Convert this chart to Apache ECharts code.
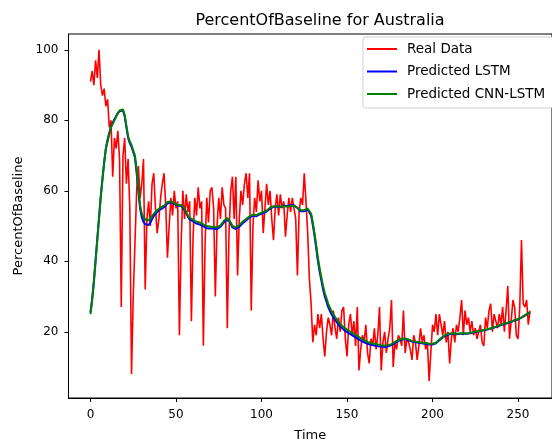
<!DOCTYPE html>
<html>
<head>
<meta charset="utf-8">
<script src="https://cdn.jsdelivr.net/npm/echarts@6/dist/echarts.min.js"></script>
<style>
html,body{margin:0;padding:0;background:#fff;}
#chart{width:552px;height:447px;}
</style>
</head>
<body>
<div id="chart"></div>
<script>
const titleText = 'PercentOfBaseline for Australia';
const xName = 'Time';
const yName = 'PercentOfBaseline';
const seriesNames = ['Real Data', 'Predicted LSTM', 'Predicted CNN-LSTM'];

const realData = [
  91, 94, 90, 97, 92, 100, 90, 87, 89, 84,
  86, 78, 80, 64, 75, 72, 77, 69, 27, 70,
  75, 62, 69, 55, 8, 30, 45, 60, 67, 58,
  62, 69, 32, 52, 57, 50, 62, 65, 55, 48,
  52, 58, 62, 65, 56, 41, 50, 58, 53, 60,
  55, 57, 19, 45, 60, 52, 59, 54, 57, 23,
  47, 58, 53, 61, 55, 57, 16, 45, 58, 51,
  60, 61, 55, 30, 50, 58, 52, 61, 56, 55,
  21, 48, 60, 64, 52, 64, 36, 52, 60, 56,
  62, 65, 58, 65, 26, 50, 58, 54, 63, 57,
  60, 48, 55, 62, 56, 60, 52, 46, 55, 59,
  53, 59, 55, 57, 47, 53, 58, 54, 58, 55,
  52, 36, 54, 58, 56, 65, 57, 48, 35, 28,
  17, 22, 19, 25, 21, 25, 18, 13, 20, 24,
  22, 19, 26, 21, 18, 24, 20, 26, 27, 18,
  13, 22, 25, 19, 23, 16, 27, 9, 15, 19,
  17, 22, 14, 11, 18, 16, 21, 15, 19, 27,
  9, 17, 20, 14, 18, 21, 29, 10, 17, 15,
  19, 18, 16, 26, 14, 18, 17, 15, 12, 19,
  17, 12, 16, 21, 17, 19, 15, 17, 6, 14,
  22, 20, 25, 19, 25, 22, 19, 23, 17, 20,
  11, 18, 21, 17, 22, 20, 24, 29, 19, 26,
  22, 24, 20, 23, 19, 21, 18, 20, 22, 17,
  16, 24, 21, 26, 28, 20, 25, 23, 21, 25,
  22, 27, 20, 26, 33, 18, 23, 29, 27, 19,
  18, 27, 46, 28, 27, 29, 22, 26
];

const lstmData = [
  25.5, 29.5, 34.5, 40.5, 46.5, 52.5, 58.5, 63.5, 68, 72, 74.5, 76.5, 78.2, 79.3, 80.3, 81.2, 82, 82.6, 83, 82.8, 81.2,
  78, 75, 73.5, 72.5, 72, 69.5, 65, 60, 55, 52.5, 51.2, 50.5, 50.2, 50.3, 51, 52, 52.8, 53.5, 54, 54.5,
  54.8, 55, 55.4, 55.8, 56.4, 56.7, 56.8, 56.6, 56.3, 56, 55.8, 55.9, 55.7, 55.2, 54.6, 53.6, 52.6, 51.9, 51.6, 51.3,
  51, 50.7, 50.5, 50.4, 50.2, 49.9, 49.6, 49.4, 49.1, 49.3, 49.7, 49.3, 49, 49.1, 49.5,
  49.8, 50.4, 51, 51.6, 51.9, 51.6, 50.6, 49.6, 49.2, 49.1, 49.3, 49.8, 50.3, 50.8, 51.1,
  51.6, 52.1, 52.5, 52.7, 52.9, 52.7, 52.8, 53, 53.3, 53.5, 53.7, 53.9, 54.1, 54.5, 54.9, 55.3, 55.5, 55.6, 55.5, 55.4,
  55.4, 55.6, 55.8, 55.8, 55.7, 55.8, 55.9, 56, 55.9, 55.6, 55.1, 54.6, 54.2, 54, 54.2, 54.5, 54.7, 54.3,
  53, 50.3, 47.2, 43.6, 40, 37, 34.5, 32, 30, 28.5, 27, 25.9, 24.9, 24.1, 23.4, 22.7, 22.1, 21.5, 21, 20.6, 20.3, 19.9,
  19.6, 19.3, 19, 18.7, 18.4, 18.1, 17.8, 17.5, 17.3, 17, 16.8, 16.6, 16.4, 16.3, 16.2, 16.1, 16, 15.9, 15.8, 15.8,
  15.8, 15.7, 15.8, 15.9, 16, 16.2, 16.5, 16.8, 17.1, 17.4, 17.6, 17.8, 17.9, 17.9, 17.8, 17.6, 17.4, 17.2, 17.1, 17,
  17, 16.9, 16.8, 16.7, 16.6, 16.6, 16.5, 16.4, 16.4, 16.4, 16.5, 16.7, 17.1, 17.6, 18, 18.4, 18.7, 19, 19.2, 19.3,
  19.4, 19.4, 19.3, 19.3, 19.3, 19.4, 19.5, 19.5, 19.4, 19.4, 19.5, 19.6, 19.7, 19.8, 19.9, 20, 20.1, 20.2, 20.3, 20.4,
  20.5, 20.6, 20.8, 20.9, 21, 21.2, 21.3, 21.5, 21.7, 21.9, 22, 22.2, 22.3, 22.5, 22.7, 22.8, 23, 23.2, 23.4, 23.5, 23.7, 24, 24.3, 24.6, 24.9, 25.2, 25.5
];

const cnnLstmData = [
  25, 29, 34, 40, 46, 52, 58, 63, 68, 72, 74, 76, 78, 79, 80, 81, 82, 82.8, 83.3, 83.1, 81.5,
  78.5, 75.5, 74, 73, 72.5, 70, 66, 61, 56, 53.5, 52.5, 52, 51.5, 51.3, 52, 52.8, 53.5, 54, 54.5, 55,
  55.3, 55.5, 55.8, 56.2, 56.8, 57, 57, 56.8, 56.5, 56.3, 56, 56.2, 56, 55.5, 55, 54, 53, 52.3, 52, 51.8,
  51.5, 51.2, 51, 51, 50.8, 50.5, 50.2, 50, 49.6, 49.8, 50.2, 49.8, 49.5, 49.6, 50,
  50.2, 50.8, 51.5, 52, 52.3, 52, 51, 50, 49.7, 49.6, 49.8, 50.3, 50.8, 51.2, 51.5,
  52, 52.5, 52.8, 53, 53.2, 53, 53.1, 53.3, 53.6, 53.8, 54, 54.2, 54.4, 54.8, 55.2, 55.5, 55.6, 55.7, 55.6, 55.5,
  55.5, 55.6, 55.7, 55.6, 55.5, 55.6, 55.7, 55.8, 55.7, 55.5, 55.2, 54.8, 54.5, 54.3, 54.5, 54.8, 55, 54.7,
  53.5, 51, 48, 44.5, 41, 38, 35.5, 33, 31, 29.5, 28, 26.8, 25.8, 25, 24.2, 23.5, 22.8, 22.2, 21.7, 21.3, 21, 20.6,
  20.3, 20, 19.7, 19.4, 19.1, 18.8, 18.5, 18.2, 17.9, 17.6, 17.3, 17.1, 16.9, 16.8, 16.7, 16.6, 16.5, 16.4, 16.3, 16.2,
  16.2, 16.1, 16.1, 16.2, 16.3, 16.5, 16.8, 17.1, 17.4, 17.6, 17.8, 18, 18.1, 18.1, 18, 17.8, 17.6, 17.4, 17.3, 17.2,
  17.2, 17.1, 17, 16.9, 16.8, 16.8, 16.7, 16.6, 16.6, 16.6, 16.7, 16.9, 17.3, 17.8, 18.2, 18.6, 18.9, 19.2, 19.4, 19.5,
  19.6, 19.6, 19.5, 19.4, 19.4, 19.5, 19.6, 19.6, 19.5, 19.5, 19.6, 19.7, 19.8, 19.9, 20, 20.1, 20.2, 20.3, 20.4, 20.5,
  20.6, 20.7, 20.9, 21, 21.1, 21.3, 21.4, 21.6, 21.8, 22, 22.1, 22.3, 22.4, 22.6, 22.8, 22.9, 23.1, 23.3, 23.5, 23.6, 23.8, 24.1, 24.4, 24.7, 25, 25.3, 25.6
];

const xMin = -12.85, xMax = 269.85;
const yMin = 1.2, yMax = 104.5;

function pairs(arr) { return arr.map((v, i) => [i, v]); }

const FONT = 'DejaVu Sans';
const chart = echarts.init(document.getElementById('chart'), null, {renderer: 'canvas'});
chart.setOption({
  animation: false,
  backgroundColor: '#fff',
  textStyle: {fontFamily: FONT},
  title: {
    text: titleText,
    left: 315, top: 8, textAlign: 'center',
    textStyle: {fontFamily: FONT, fontSize: 16, fontWeight: 'normal', color: '#000'}
  },
  legend: {
    orient: 'vertical',
    left: 363, top: 37,
    data: seriesNames,
    icon: 'rect', itemWidth: 30, itemHeight: 2, itemGap: 8.5,
    padding: [5, 8, 7, 4],
    backgroundColor: '#fff',
    borderColor: '#d0d0d0', borderWidth: 1, borderRadius: 3,
    textStyle: {fontFamily: FONT, fontSize: 13.5, color: '#000', padding: [0, 0, 0, 5]}
  },
  grid: {left: 68.5, top: 34, right: -10, bottom: 47, show: true, borderColor: '#000', borderWidth: 1, backgroundColor: 'transparent'},
  xAxis: {
    type: 'value', min: xMin, max: xMax, splitNumber: 5,
    name: xName, nameLocation: 'middle', nameGap: 31,
    nameTextStyle: {fontFamily: FONT, fontSize: 13, color: '#000'},
    axisLine: {show: true, onZero: false, lineStyle: {color: '#000', width: 1}},
    axisTick: {show: true, length: 4, lineStyle: {color: '#000'}},
    axisLabel: {fontFamily: FONT, fontSize: 12, color: '#000', margin: 10.5, showMinLabel: false, showMaxLabel: false,
      formatter: v => (Math.abs(v % 50) < 1e-6 ? String(v) : '')},
    splitLine: {show: false}
  },
  yAxis: {
    type: 'value', min: yMin, max: yMax, splitNumber: 5,
    name: yName, nameLocation: 'middle', nameGap: 37,
    nameTextStyle: {fontFamily: FONT, fontSize: 13, color: '#000'},
    axisLine: {show: true, onZero: false, lineStyle: {color: '#000', width: 1}},
    axisTick: {show: true, length: 4, lineStyle: {color: '#000'}},
    axisLabel: {fontFamily: FONT, fontSize: 12, color: '#000', margin: 10, showMinLabel: false, showMaxLabel: false,
      formatter: v => (Math.abs(v % 20) < 1e-6 ? String(v) : '')},
    splitLine: {show: false}
  },
  series: [
    {name: seriesNames[0], type: 'line', data: pairs(realData), showSymbol: false, symbol: 'none',
     lineStyle: {color: '#ff0000', width: 1.6}, itemStyle: {color: '#ff0000'}, z: 2},
    {name: seriesNames[1], type: 'line', data: pairs(lstmData), showSymbol: false, symbol: 'none',
     lineStyle: {color: '#0000ff', width: 2}, itemStyle: {color: '#0000ff'}, z: 3},
    {name: seriesNames[2], type: 'line', data: pairs(cnnLstmData), showSymbol: false, symbol: 'none',
     lineStyle: {color: '#008000', width: 2}, itemStyle: {color: '#008000'}, z: 4}
  ]
});
</script>
</body>
</html>
